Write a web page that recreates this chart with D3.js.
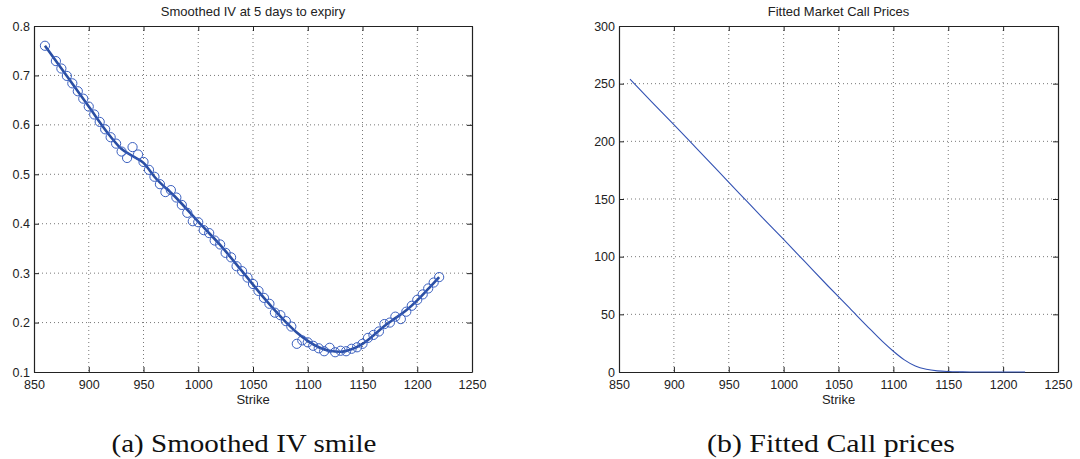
<!DOCTYPE html>
<html lang="en">
<head>
    <meta charset="utf-8">
    <script src="https://d3js.org/d3.v7.min.js"></script>
    <style>
        body { margin: 0; background: #fff; }
        svg { display: block; }
        .tick text { font-family: "Liberation Sans", Arial, sans-serif; font-size: 12.5px; fill: #222; }
        .lbl { font-family: "Liberation Sans", Arial, sans-serif; fill: #222; }
        .cap { font-family: "Liberation Serif", "DejaVu Serif", serif; fill: #111; }
    </style>
</head>
<body>
    <svg></svg>
    <script>
        // market implied vols, 5 days to expiry (865 has no quote)
        const ivStrikes = [860, 870, 875, 880, 885, 890, 895, 900, 905, 910, 915, 920, 925, 930, 935, 940, 945, 950,
            955, 960, 965, 970, 975, 980, 985, 990, 995, 1000, 1005, 1010, 1015, 1020, 1025, 1030, 1035, 1040,
            1045, 1050, 1055, 1060, 1065, 1070, 1075, 1080, 1085, 1090, 1095, 1100, 1105, 1110, 1115, 1120,
            1125, 1130, 1135, 1140, 1145, 1150, 1155, 1160, 1165, 1170, 1175, 1180, 1185, 1190, 1195, 1200,
            1205, 1210, 1215, 1220]
        const ivMarket = [0.760, 0.729, 0.714, 0.699, 0.684, 0.668, 0.653, 0.637, 0.621, 0.606, 0.591, 0.575, 0.562,
            0.546, 0.533, 0.555, 0.540, 0.525, 0.509, 0.495, 0.480, 0.464, 0.468, 0.453, 0.438, 0.422, 0.405,
            0.403, 0.387, 0.381, 0.366, 0.358, 0.341, 0.332, 0.314, 0.304, 0.291, 0.278, 0.264, 0.250, 0.238,
            0.220, 0.215, 0.203, 0.192, 0.157, 0.164, 0.160, 0.153, 0.148, 0.142, 0.149, 0.140, 0.143, 0.142,
            0.147, 0.150, 0.157, 0.169, 0.175, 0.182, 0.197, 0.200, 0.212, 0.207, 0.222, 0.234, 0.246, 0.257,
            0.269, 0.281, 0.292]

        // smoothed smile
        const smoothStrikes = [860, 880, 900, 920, 930, 940, 950, 960, 980, 1000, 1020, 1040, 1060, 1080, 1090,
            1100, 1110, 1120, 1130, 1140, 1150, 1160, 1170, 1180, 1190, 1200, 1210, 1220]
        const smoothIV = [0.760, 0.699, 0.637, 0.576, 0.551, 0.537, 0.523, 0.495, 0.452, 0.404, 0.357, 0.304,
            0.250, 0.201, 0.180, 0.163, 0.150, 0.143, 0.141, 0.146, 0.157, 0.174, 0.193, 0.209, 0.225, 0.245,
            0.268, 0.292]

        // fitted call prices
        const callStrikes = [860, 880, 900, 920, 940, 960, 980, 1000, 1020, 1040, 1060, 1080, 1090, 1100, 1110,
            1120, 1130, 1140, 1150, 1160, 1170, 1180, 1200, 1220]
        const callPrices = [254, 234, 214.5, 194.5, 174.5, 154.5, 134.5, 115, 95, 75, 55.5, 36, 26.5, 18, 10.5,
            5.2, 2.4, 1.0, 0.4, 0.15, 0.05, 0.02, 0, 0]

        const xTicks = [850, 900, 950, 1000, 1050, 1100, 1150, 1200, 1250]
        const ivTicks = [0.1, 0.2, 0.3, 0.4, 0.5, 0.6, 0.7, 0.8]
        const priceTicks = [0, 50, 100, 150, 200, 250, 300]

        const titles = ['Smoothed IV at 5 days to expiry', 'Fitted Market Call Prices']
        const captions = ['(a) Smoothed IV smile', '(b) Fitted Call prices']

        const W = 1080, H = 459
        const svg = d3.select('svg').attr('width', W).attr('height', H)

        const plotTop = 26, plotBottom = 372

        function panel(left, right, yDomain, yTicks, yFmt, title, caption, capX, capW) {
            const x = d3.scaleLinear().domain([850, 1250]).range([left, right])
            const y = d3.scaleLinear().domain(yDomain).range([plotBottom, plotTop])
            const g = svg.append('g')

            // dotted grid
            g.append('g').selectAll('line').data(xTicks.slice(1, -1)).enter().append('line')
                .attr('x1', d => x(d)).attr('x2', d => x(d)).attr('y1', plotTop).attr('y2', plotBottom)
                .attr('stroke', '#555').attr('stroke-width', 0.8).attr('stroke-dasharray', '1,3')
            g.append('g').selectAll('line').data(yTicks.slice(1, -1)).enter().append('line')
                .attr('y1', d => y(d)).attr('y2', d => y(d)).attr('x1', left).attr('x2', right)
                .attr('stroke', '#555').attr('stroke-width', 0.8).attr('stroke-dasharray', '1,3')

            const axes = [
                [d3.axisBottom(x), `translate(0,${plotBottom})`, true],
                [d3.axisTop(x), `translate(0,${plotTop})`, false],
            ]
            axes.forEach(([ax, tr, lab]) => {
                const a = g.append('g').attr('transform', tr)
                    .call(ax.tickValues(xTicks).tickSizeInner(-5).tickSizeOuter(0).tickPadding(8).tickFormat(lab ? d3.format('d') : ''))
                a.select('.domain').attr('stroke', '#222').attr('stroke-width', 1.2)
                a.selectAll('.tick line').attr('stroke', '#222')
            })
            const yaxes = [
                [d3.axisLeft(y), `translate(${left},0)`, true],
                [d3.axisRight(y), `translate(${right},0)`, false],
            ]
            yaxes.forEach(([ax, tr, lab]) => {
                const a = g.append('g').attr('transform', tr)
                    .call(ax.tickValues(yTicks).tickSizeInner(-5).tickSizeOuter(0).tickPadding(4).tickFormat(lab ? yFmt : ''))
                a.select('.domain').attr('stroke', '#222').attr('stroke-width', 1.2)
                a.selectAll('.tick line').attr('stroke', '#222')
            })

            g.append('text').attr('class', 'lbl').attr('x', (left + right) / 2).attr('y', 16)
                .attr('text-anchor', 'middle').attr('font-size', 13).text(title)
            g.append('text').attr('class', 'lbl').attr('x', (left + right) / 2).attr('y', 404)
                .attr('text-anchor', 'middle').attr('font-size', 13).text('Strike')
            g.append('text').attr('class', 'cap').attr('x', capX).attr('y', 452)
                .attr('text-anchor', 'middle').attr('font-size', 26)
                .attr('textLength', capW).attr('lengthAdjust', 'spacingAndGlyphs').text(caption)

            return { g, x, y }
        }

        // (a) smile
        const a = panel(34, 472, [0.1, 0.8], ivTicks, d3.format('.1f'), titles[0], captions[0], 244, 265)
        const smooth = smoothStrikes.map((k, i) => [k, smoothIV[i]])
        a.g.append('path').datum(smooth)
            .attr('fill', 'none').attr('stroke', '#2a4ea3').attr('stroke-width', 2.6)
            .attr('d', d3.line().x(d => a.x(d[0])).y(d => a.y(d[1])).curve(d3.curveMonotoneX))
        a.g.append('g').selectAll('circle').data(ivStrikes.map((k, i) => [k, ivMarket[i]])).enter()
            .append('circle')
            .attr('cx', d => a.x(d[0])).attr('cy', d => a.y(d[1])).attr('r', 4.6)
            .attr('fill', 'none').attr('stroke', '#3a5fbf').attr('stroke-width', 1)

        // (b) call prices
        const b = panel(619, 1058, [0, 300], priceTicks, d3.format('d'), titles[1], captions[1], 831, 248)
        b.g.append('path').datum(callStrikes.map((k, i) => [k, callPrices[i]]))
            .attr('fill', 'none').attr('stroke', '#3352b3').attr('stroke-width', 1.1)
            .attr('d', d3.line().x(d => b.x(d[0])).y(d => b.y(d[1])).curve(d3.curveMonotoneX))
    </script>
</body>
</html>
